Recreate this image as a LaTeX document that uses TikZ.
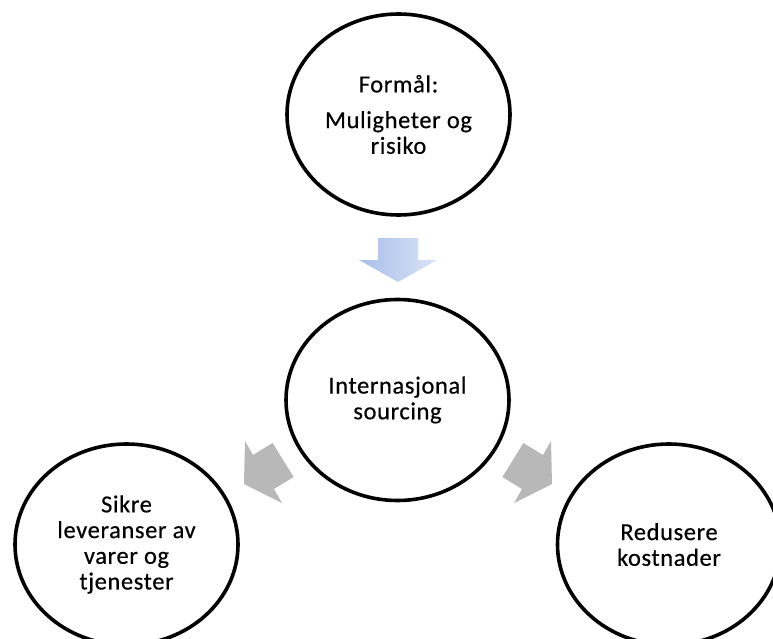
\documentclass[tikz,border=0pt]{standalone}
\usepackage{fontspec}
\setmainfont{Carlito}[LetterSpace=2.5,FakeBold=0.4]
\usetikzlibrary{shapes.geometric}
\definecolor{arrowgray}{RGB}{184,184,184}
\definecolor{blueA}{RGB}{168,190,234}
\definecolor{blueB}{RGB}{218,228,246}
\begin{document}
\begin{tikzpicture}[x=1pt,y=-1pt,
  goal/.style={ellipse, draw=black, line width=3.6pt, minimum width=223pt,
    minimum height=201pt, inner sep=0pt, align=center,
    font=\fontsize{24.5}{25.7}\selectfont},
  grayarrow/.style={fill=arrowgray, draw=none},
  bluearrow/.style={left color=blueA, right color=blueB, draw=none}]
\useasboundingbox (0,0) rectangle (773,639);
\clip (0,0) rectangle (773,639);
\fill[white] (0,0) rectangle (773,639);

% the four goal ellipses
\node[goal] (purpose)  at (398.5,114.5) {Formål:\\[10pt]Muligheter og\\risiko};
\node[goal] (sourcing) at (397.5,400)   {Internasjonal\\sourcing};
\node[goal] (supply)   at (126.5,544.5) {Sikre\\leveranser av\\varer og\\tjenester};
\node[goal] (cost)     at (669,544.5)   {Redusere\\kostnader};

% block arrow from the purpose to sourcing
\path[bluearrow] (378,238) -- (418,238) -- (418,260) -- (437,260)
  -- (398,282) -- (359,260) -- (378,260) -- cycle;

% block arrows from sourcing to the two outcomes
\path[grayarrow] (272.6,443) -- (293.6,477) -- (274,489) -- (282,503)
  -- (244,484) -- (245,441) -- (253,455) -- cycle;
\path[grayarrow] (523.4,443) -- (502.4,477) -- (522,489) -- (514,503)
  -- (552,484) -- (551,441) -- (543,455) -- cycle;
\end{tikzpicture}
\end{document}
